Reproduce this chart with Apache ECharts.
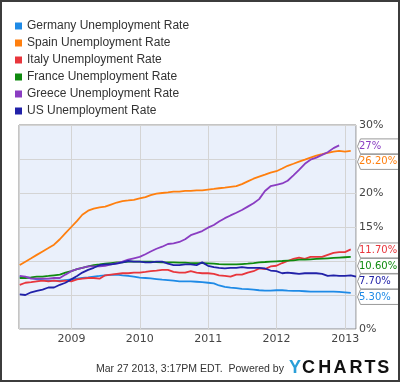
<!DOCTYPE html>
<html><head><meta charset="utf-8">
<script src="https://cdn.jsdelivr.net/npm/echarts@6/dist/echarts.min.js"></script>
<style>html,body{margin:0;padding:0;background:#fff}#c{width:400px;height:382px}</style>
</head><body><div id="c"></div>
<script>
// ---- data ----
const seriesNames = ['Germany Unemployment Rate','Spain Unemployment Rate','Italy Unemployment Rate','France Unemployment Rate','Greece Unemployment Rate','US Unemployment Rate'];
// monthly (month-end) values starting March 2008
const startYear = 2008, startMonth = 3;
const germany = [7.7,7.6,7.5,7.3,7.2,7.1,7.1,7.1,7.2,7.3, 7.4,7.5,7.6,7.7,7.8,7.9,7.95,8.0,7.9,7.8, 7.7,7.55,7.5,7.45,7.35,7.25,7.2,7.1,7.0,7.0, 7.0,6.95,6.9,6.8,6.7,6.4,6.2,6.1,6.0,5.9, 5.85,5.8,5.7,5.65,5.65,5.7,5.7,5.65,5.6,5.6, 5.55,5.5,5.5,5.5,5.5,5.5,5.45,5.4,5.3];
const spain = [9.4,9.9,10.4,10.9,11.4,11.9,12.4,13.2,14.1,15.0, 15.9,16.8,17.4,17.7,17.9,18.0,18.3,18.6,18.8,18.9, 19.0,19.2,19.4,19.7,19.9,20.0,20.1,20.2,20.2,20.3, 20.3,20.4,20.4,20.5,20.6,20.7,20.8,20.9,21.0,21.3, 21.7,22.1,22.4,22.7,23.0,23.2,23.6,24.0,24.3,24.6, 24.9,25.2,25.5,25.7,25.9,26.1,26.2,26.1,26.2];
const italy = [6.5,6.8,6.9,7.0,7.1,7.0,7.1,7.0,7.1,7.0, 7.3,7.4,7.5,7.5,7.4,7.9,8.0,8.1,8.2,8.2, 8.3,8.3,8.4,8.5,8.6,8.7,8.7,8.4,8.3,8.3, 8.5,8.3,8.2,8.2,8.1,7.9,7.8,7.7,8.0,8.0, 8.3,8.5,8.9,8.8,9.2,9.3,9.7,10.0,10.3,10.5, 10.3,10.6,10.6,10.6,10.9,11.2,11.3,11.3,11.7];
const france = [7.5,7.5,7.6,7.7,7.7,7.8,7.9,8.0,8.3,8.5, 8.8,9.0,9.2,9.4,9.5,9.6,9.7,9.8,9.8,9.9, 9.9,9.9,9.9,9.9,9.85,9.8,9.8,9.8,9.75,9.75, 9.7,9.7,9.7,9.65,9.6,9.55,9.5,9.5,9.5,9.55, 9.6,9.7,9.8,9.85,9.9,9.95,10.0,10.05,10.1,10.2, 10.2,10.25,10.3,10.35,10.4,10.45,10.5,10.55,10.6];
const greece = [7.8,7.7,7.4,7.4,7.4,7.4,7.5,7.5,8.0,8.5, 8.8,9.0,9.2,9.2,9.2,9.3,9.5,9.7,9.9,10.2, 10.4,10.6,11.0,11.4,11.8,12.1,12.5,12.6,12.8,13.2, 13.8,14.1,14.4,14.9,15.3,15.8,16.3,16.7,17.1,17.5, 18.0,18.5,19.1,20.3,21.0,21.2,21.4,21.8,22.6,23.4, 24.3,24.9,25.2,25.6,26.0,26.6,27.0];
const us = [5.1,5.0,5.4,5.6,5.8,6.1,6.1,6.5,6.8,7.3, 7.8,8.3,8.7,9.0,9.4,9.5,9.5,9.6,9.8,10.0, 9.9,9.9,9.8,9.8,9.9,9.9,9.6,9.4,9.4,9.5, 9.5,9.4,9.8,9.3,9.1,9.0,8.9,9.0,9.0,9.1, 9.0,9.0,9.0,8.9,8.6,8.5,8.2,8.3,8.2,8.1, 8.2,8.2,8.2,8.1,7.8,7.9,7.8,7.8,7.9,7.7];
const yearTicks = ['2009','2010','2011','2012','2013'];
const yTicks = [0,5,10,15,20,25,30];
const axisStart = '2008-03-27', axisEnd = '2013-02-28';
const footerText = 'Mar 27 2013, 3:17PM EDT.  Powered by';
const logoLetters = ['Y','C','H','A','R','T','S'];

// ---- styles ----
const colors = ['#1e8ae6','#ff7f0e','#e8363c','#0f8a0f','#8a3dc2','#2121a8'];
const allValues = [germany, spain, italy, france, greece, us];

function monthEnd(i){ return Date.UTC(startYear, startMonth + i, 0); }
function toData(arr){ return arr.map((v,i)=>[monthEnd(i), v]); }
function fmtEnd(v){ return Number.isInteger(v) ? v + '%' : v.toFixed(2) + '%'; }

const chart = echarts.init(document.getElementById('c'));
let hidden = new Set();
const yearMs = 365*24*3600*1000;
const option = {
  animation:false,
  useUTC:true,
  backgroundColor:'#fff',
  legend:{orient:'vertical', left:10, top:14, itemWidth:7, itemHeight:7, itemGap:3, icon:'rect', selectedMode:false,
    textStyle:{fontFamily:'Liberation Sans, Arial', fontSize:12, color:'#333', lineHeight:14}, data:seriesNames},
  grid:{left:19, right:44, top:125, bottom:53, show:true, backgroundColor:'#eaf0fb', borderColor:'#8a8a8a', borderWidth:1, containLabel:false},
  xAxis:{type:'time', min:new Date(axisStart+'T00:00:00Z').getTime(), max:new Date(axisEnd+'T00:00:00Z').getTime(),
    minInterval:yearMs, maxInterval:yearMs*1.01,
    axisLine:{show:false}, axisTick:{show:false},
    splitLine:{show:true, lineStyle:{color:'#d4d4d4', width:1}},
    axisLabel:{fontFamily:'DejaVu Sans', fontSize:11, color:'#444', margin:5, showMinLabel:false, showMaxLabel:false,
      formatter:function(v){ const d=new Date(v); const y=String(d.getUTCFullYear());
        return (d.getUTCMonth()===0 && d.getUTCDate()===1 && yearTicks.indexOf(y)>=0) ? y : ''; }}},
  yAxis:{type:'value', position:'right', min:yTicks[0], max:yTicks[yTicks.length-1], interval:5,
    axisLine:{show:false}, axisTick:{show:false},
    splitLine:{show:true, lineStyle:{color:'#d4d4d4', width:1}},
    axisLabel:{fontFamily:'DejaVu Sans', fontSize:11, color:'#444', margin:3,
      formatter:function(v){ return hidden.has(v) ? '' : v + '%'; }}},
  series: seriesNames.map((n,i)=>({name:n, type:'line', data:toData(allValues[i]), showSymbol:false, symbol:'none',
    lineStyle:{width:1.8, color:colors[i]}, itemStyle:{color:colors[i]}, z:2+i}))
};
chart.setOption(option);

// end labels along the right axis
const ends = allValues.map((arr,i)=>{ const v = arr[arr.length-1];
  return {v, color:colors[i], y: chart.convertToPixel({yAxisIndex:0}, v) + 1}; });
ends.sort((a,b)=>a.y-b.y);
const H = 15.5;
for (let i=1;i<ends.length;i++){ if (ends[i].y < ends[i-1].y + H) ends[i].y = ends[i-1].y + H; }
hidden = new Set(yTicks.filter(t=>{ const py = chart.convertToPixel({yAxisIndex:0}, t);
  return ends.some(e=>Math.abs(e.y - py) < H/2 + 5); }));

const gr = [];
ends.forEach(e=>{
  const t = e.y - 7.5, b = e.y + 7.5;
  gr.push({type:'polygon', shape:{points:[[360.5,t],[402,t],[402,b],[360.5,b],[357.5,e.y]]},
    style:{fill:'#fff', stroke:'#999', lineWidth:1}, z:10});
  gr.push({type:'text', x:359, y:e.y, style:{text:fmtEnd(e.v), font:'10px DejaVu Sans', fill:e.color, textAlign:'left', textVerticalAlign:'middle'}, z:11});
});
gr.push({type:'text', x:96, y:369, style:{text:footerText, font:'10.5px Liberation Sans, Arial', fill:'#333', textAlign:'left', textVerticalAlign:'middle'}});
const logoX = [295, 308.5, 324.7, 340, 356, 370, 383.3];
logoLetters.forEach((ch,i)=>{
  gr.push({type:'text', x:logoX[i], y:368, style:{text:ch, font:'bold 18px Liberation Sans, Arial', fill: i===0 ? '#2a9fd8' : '#111', textAlign:'center', textVerticalAlign:'middle'}});
});
gr.push({type:'rect', shape:{x:1,y:1,width:398,height:380}, style:{fill:'none', stroke:'#3c3c3c', lineWidth:2}, z:20});
chart.setOption({graphic:gr, yAxis:{axisLabel:{formatter:function(v){ return hidden.has(v) ? '' : v + '%'; }}}});
</script></body></html>
